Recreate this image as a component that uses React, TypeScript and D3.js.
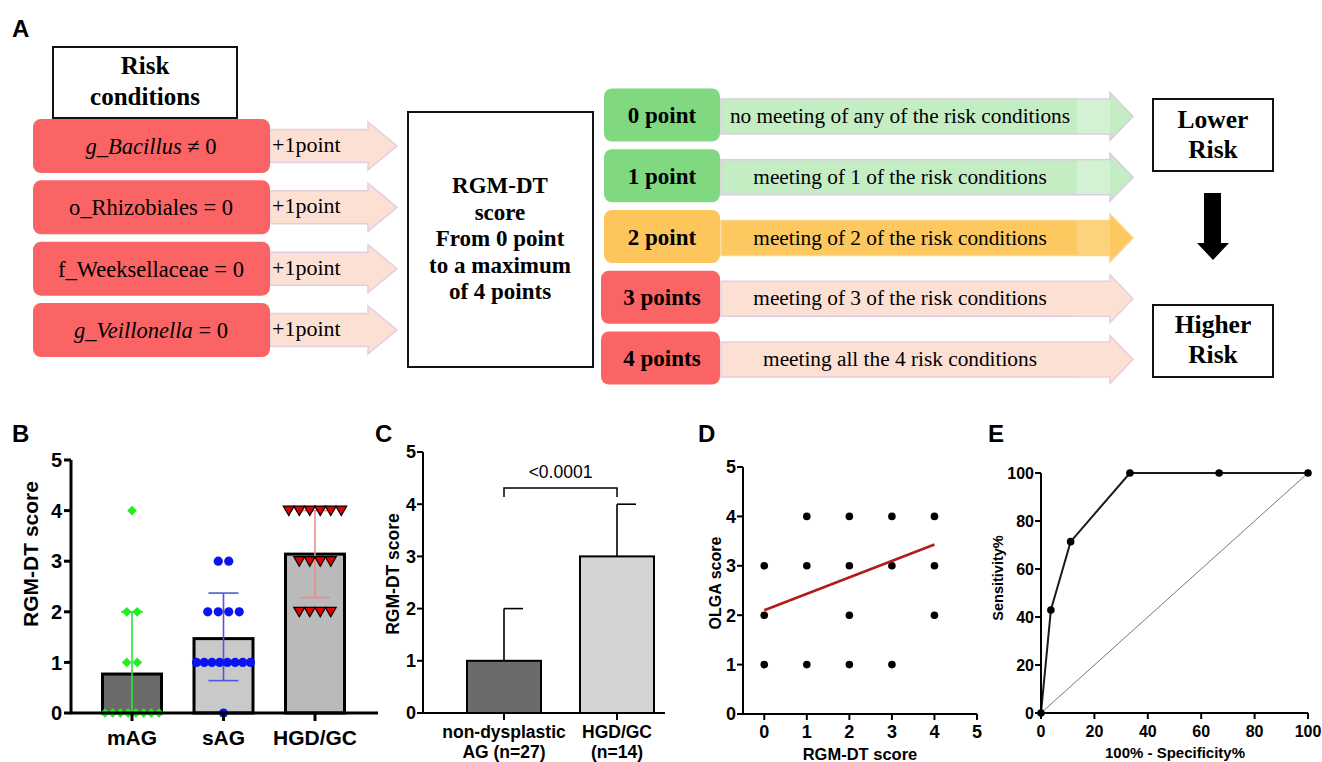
import React from "react";
import * as d3 from "d3";

// ---- panel A content ----
const riskConditions = [
  { italic: "g_Bacillus", rest: " ≠ 0" },
  { italic: "", rest: "o_Rhizobiales = 0" },
  { italic: "", rest: "f_Weeksellaceae = 0" },
  { italic: "g_Veillonella", rest: " = 0" },
];
const pointLabel = "+1point";
const scoreBoxLines = ["RGM-DT", "score", "From 0 point", "to a maximum", "of 4 points"];
const scoreLevels = ["0 point", "1 point", "2 point", "3 points", "4 points"];
const scoreDescriptions = [
  "no meeting of any of the risk conditions",
  "meeting of 1 of the risk conditions",
  "meeting of 2 of the risk conditions",
  "meeting of 3 of the risk conditions",
  "meeting all the 4 risk conditions",
];
const scoreTier = ["low", "low", "mid", "high", "high"];

// ---- panel B ----
const groupsB = ["mAG", "sAG", "HGD/GC"];
const meansB = [0.77, 1.47, 3.14];
const sdUpperB = [2.0, 2.37, 4.0];
const sdLowerB = [0, 0.64, 2.28];
const scoresMAG = [4, 2, 2, 1, 1, 0, 0, 0, 0, 0, 0, 0, 0];
const scoresSAG = [3, 3, 2, 2, 2, 2, 1, 1, 1, 1, 1, 1, 1, 1, 0];
const scoresHGD = [4, 4, 4, 4, 4, 4, 3, 3, 3, 3, 2, 2, 2, 2];

// ---- panel C ----
const groupsC = [["non-dysplastic", "AG (n=27)"], ["HGD/GC", "(n=14)"]];
const valuesC = [1, 3];
const errorTopC = [2, 4];
const pValueC = "<0.0001";

// ---- panel D ----
const rgmScoreD = [0, 0, 0, 1, 1, 1, 2, 2, 2, 2, 3, 3, 3, 4, 4, 4];
const olgaScoreD = [3, 2, 1, 4, 3, 1, 4, 3, 2, 1, 4, 3, 1, 4, 3, 2];
const fitStartD = [0, 2.1];
const fitEndD = [4, 3.43];

// ---- panel E ----
const rocSpec = [0, 3.7, 11.1, 33.3, 66.7, 100];
const rocSens = [0, 42.9, 71.4, 100, 100, 100];

const SERIF = "'Liberation Serif', 'Times New Roman', serif";
const SANS = "'Liberation Sans', Arial, Helvetica, sans-serif";

const arrowPath = (x0: number, x1: number, cy: number, sh: number, hh: number, hl: number) =>
  `M${x0},${cy - sh}L${x1 - hl},${cy - sh}L${x1 - hl},${cy - hh}L${x1},${cy}L${x1 - hl},${cy + hh}L${x1 - hl},${cy + sh}L${x0},${cy + sh}Z`;

const tierFill: Record<string, string> = { low: "#80d880", mid: "#fdc65d", high: "#fb6464" };
const tierArrow: Record<string, string> = { low: "#c4edc4", mid: "#fdc860", high: "#fde0d4" };
const tierArrowEnd: Record<string, string> = { low: "#d3f2d3", mid: "#fdd27c", high: "#fde0d4" };
const tierStroke: Record<string, string> = { low: "#dccbe0", mid: "#fbd58a", high: "#e3cde0" };

function PanelA() {
  const rowL = d3.scaleLinear().domain([0, 3]).range([146, 330]);
  const rowR = d3.scaleLinear().domain([0, 4]).range([115, 358]);
  return (
    <g>
      <text x={12} y={37} fontFamily={SANS} fontWeight="bold" fontSize={24}>A</text>
      <rect x={53} y={47} width={184} height={71} fill="#fff" stroke="#111" strokeWidth={2} />
      <text x={145} y={74} textAnchor="middle" fontFamily={SERIF} fontWeight="bold" fontSize={25}>Risk</text>
      <text x={145} y={105} textAnchor="middle" fontFamily={SERIF} fontWeight="bold" fontSize={25}>conditions</text>
      {riskConditions.map((c, i) => (
        <g key={i}>
          <path d={arrowPath(270, 397, rowL(i), 16.5, 24, 29)} fill="#fde0d4" stroke="#e3cde0" strokeWidth={1.5} />
          <rect x={33} y={rowL(i) - 27} width={237} height={54} rx={8} fill="#fb6464" />
          <text x={151} y={rowL(i) + 8} textAnchor="middle" fontFamily={SERIF} fontSize={22.5}>
            {c.italic && <tspan fontStyle="italic">{c.italic}</tspan>}
            <tspan>{c.rest}</tspan>
          </text>
          <text x={272} y={rowL(i) + 6} fontFamily={SERIF} fontSize={22}>{pointLabel}</text>
        </g>
      ))}
      <rect x={408} y={112} width={185} height={255} fill="#fff" stroke="#111" strokeWidth={2} />
      {scoreBoxLines.map((t, i) => (
        <text key={t} x={500} y={193 + i * 26.5} textAnchor="middle" fontFamily={SERIF} fontWeight="bold" fontSize={23}>{t}</text>
      ))}
      {scoreLevels.map((lv, i) => {
        const tier = scoreTier[i];
        const x0 = tier === "high" ? 601 : 604;
        const cy = rowR(i) + 1.5;
        return (
          <g key={lv}>
            <path d={arrowPath(721, 1133, cy, 17.5, 24, 23)} fill={tierArrow[tier]} stroke={tierStroke[tier]} strokeWidth={1.5} />
            <rect x={1077} y={cy - 16.8} width={33} height={33.6} fill={tierArrowEnd[tier]} />
            <rect x={x0} y={rowR(i) - 26.5} width={720 - x0} height={53} rx={8} fill={tierFill[tier]} />
            <text x={662} y={rowR(i) + 8} textAnchor="middle" fontFamily={SERIF} fontWeight="bold" fontSize={23}>{lv}</text>
            <text x={900} y={rowR(i) + 8} textAnchor="middle" fontFamily={SERIF} fontSize={21.3}>{scoreDescriptions[i]}</text>
          </g>
        );
      })}
      <rect x={1153} y={99} width={120} height={72} fill="#fff" stroke="#111" strokeWidth={2} />
      <text x={1213} y={128} textAnchor="middle" fontFamily={SERIF} fontWeight="bold" fontSize={25.5}>Lower</text>
      <text x={1213} y={158} textAnchor="middle" fontFamily={SERIF} fontWeight="bold" fontSize={25.5}>Risk</text>
      <path d="M1204,193L1221,193L1221,243L1229,243L1213,260L1197,243L1204,243Z" fill="#000" />
      <rect x={1153} y={305} width={120} height={72} fill="#fff" stroke="#111" strokeWidth={2} />
      <text x={1213} y={333} textAnchor="middle" fontFamily={SERIF} fontWeight="bold" fontSize={25.5}>Higher</text>
      <text x={1213} y={363} textAnchor="middle" fontFamily={SERIF} fontWeight="bold" fontSize={25.5}>Risk</text>
    </g>
  );
}

// spread points with the same value side by side around the category centre
function spread(values: number[]) {
  const counts = d3.rollup(values, v => v.length, v => v);
  const seen = new Map<number, number>();
  return values.map(v => {
    const n = counts.get(v) || 1;
    const k = seen.get(v) || 0;
    seen.set(v, k + 1);
    const step = n > 1 ? Math.min(10.5, 54 / (n - 1)) : 0;
    return { v, dx: (k - (n - 1) / 2) * step };
  });
}

function PanelB() {
  const y = d3.scaleLinear().domain([0, 5]).range([713, 460]);
  const x = d3.scalePoint<string>().domain(groupsB).range([132, 315]);
  const bw = 59;
  const barFill = ["#6b6b6b", "#c9c9c9", "#bababa"];
  const errCol = ["#2fe52f", "#4a5ae0", "#f28a8a"];
  const sets = [scoresMAG, scoresSAG, scoresHGD];
  const diamond = d3.symbol().type(d3.symbolDiamond2).size(60)();
  const tri = "M-5.5,-4.5L5.5,-4.5L0,5Z";
  return (
    <g fontFamily={SANS} fontWeight="bold">
      <text x={12} y={442} fontSize={24}>B</text>
      {groupsB.map((g, i) => (
        <rect key={g} x={x(g)! - bw / 2} y={y(meansB[i])} width={bw} height={y(0) - y(meansB[i])} fill={barFill[i]} stroke="#000" strokeWidth={3} />
      ))}
      {groupsB.map((g, i) => {
        const cx = x(g)!;
        const hw = i === 0 ? 11 : 15;
        return (
          <g key={g} stroke={errCol[i]} strokeWidth={1.6}>
            <line x1={cx} x2={cx} y1={y(sdLowerB[i])} y2={y(sdUpperB[i])} />
            <line x1={cx - hw} x2={cx + hw} y1={y(sdUpperB[i])} y2={y(sdUpperB[i])} />
            {sdLowerB[i] > 0 && <line x1={cx - hw} x2={cx + hw} y1={y(sdLowerB[i])} y2={y(sdLowerB[i])} />}
          </g>
        );
      })}
      {sets.map((s, i) =>
        spread(s).map((p, j) => {
          const px = x(groupsB[i])! + p.dx;
          const py = y(p.v);
          if (i === 0) return <path key={`${i}-${j}`} d={diamond} transform={`translate(${px},${py})`} fill="#22ee22" />;
          if (i === 1) return <circle key={`${i}-${j}`} cx={px} cy={py} r={4.6} fill="#0a14ee" />;
          return <path key={`${i}-${j}`} d={tri} transform={`translate(${px},${py})`} fill="#e00000" stroke="#000" strokeWidth={1.2} />;
        })
      )}
      <line x1={71} x2={71} y1={y(0)} y2={y(5)} stroke="#000" strokeWidth={3} />
      <line x1={70} x2={378} y1={y(0)} y2={y(0)} stroke="#000" strokeWidth={3} />
      {y.ticks(5).map(t => (
        <g key={t}>
          <line x1={64} x2={71} y1={y(t)} y2={y(t)} stroke="#000" strokeWidth={3} />
          <text x={62} y={y(t)} dy="0.36em" textAnchor="end" fontSize={20}>{t}</text>
        </g>
      ))}
      {groupsB.map(g => (
        <g key={g}>
          <line x1={x(g)} x2={x(g)} y1={y(0)} y2={y(0) + 8} stroke="#000" strokeWidth={3} />
          <text x={x(g)} y={745} textAnchor="middle" fontSize={21}>{g}</text>
        </g>
      ))}
      <text transform="translate(30,554) rotate(-90)" textAnchor="middle" dy="0.36em" fontSize={21}>RGM-DT score</text>
    </g>
  );
}

function PanelC() {
  const y = d3.scaleLinear().domain([0, 5]).range([713, 452]);
  const keys = groupsC.map(g => g.join(" "));
  const x = d3.scalePoint<string>().domain(keys).range([504, 617]);
  const bw = 74;
  const fills = ["#6b6b6b", "#d4d4d4"];
  const bracketY = 488;
  return (
    <g fontFamily={SANS} fontWeight="bold">
      <text x={375} y={442} fontSize={24}>C</text>
      {keys.map((k, i) => (
        <g key={k}>
          <line x1={x(k)} x2={x(k)} y1={y(valuesC[i])} y2={y(errorTopC[i])} stroke="#000" strokeWidth={1.6} />
          <line x1={x(k)} x2={x(k)! + 19} y1={y(errorTopC[i])} y2={y(errorTopC[i])} stroke="#000" strokeWidth={1.6} />
          <rect x={x(k)! - bw / 2} y={y(valuesC[i])} width={bw} height={y(0) - y(valuesC[i])} fill={fills[i]} stroke="#000" strokeWidth={2} />
        </g>
      ))}
      <path d={`M${x(keys[0])},${bracketY + 9}V${bracketY}H${x(keys[1])}V${bracketY + 9}`} fill="none" stroke="#000" strokeWidth={1.5} />
      <text x={(x(keys[0])! + x(keys[1])!) / 2} y={478} textAnchor="middle" fontWeight="normal" fontSize={17.5}>{pValueC}</text>
      <line x1={423} x2={423} y1={y(0)} y2={y(5)} stroke="#000" strokeWidth={2} />
      <line x1={422} x2={665} y1={y(0)} y2={y(0)} stroke="#000" strokeWidth={2} />
      {y.ticks(5).map(t => (
        <g key={t}>
          <line x1={417} x2={423} y1={y(t)} y2={y(t)} stroke="#000" strokeWidth={2} />
          <text x={416} y={y(t)} dy="0.36em" textAnchor="end" fontSize={18}>{t}</text>
        </g>
      ))}
      {keys.map((k, i) => (
        <g key={k}>
          <line x1={x(k)} x2={x(k)} y1={y(0)} y2={y(0) + 7} stroke="#000" strokeWidth={2} />
          {groupsC[i].map((line, j) => (
            <text key={line} x={x(k)} y={738 + j * 19.5} textAnchor="middle" fontSize={17.5}>{line}</text>
          ))}
        </g>
      ))}
      <text transform="translate(393,574) rotate(-90)" textAnchor="middle" dy="0.36em" fontSize={17.5}>RGM-DT score</text>
    </g>
  );
}

function PanelD() {
  const x = d3.scaleLinear().domain([-0.5, 5]).range([743, 977]);
  const y = d3.scaleLinear().domain([0, 5]).range([714, 467]);
  return (
    <g fontFamily={SANS} fontWeight="bold">
      <text x={698} y={442} fontSize={24}>D</text>
      {rgmScoreD.map((v, i) => (
        <circle key={i} cx={x(v)} cy={y(olgaScoreD[i])} r={3.8} fill="#000" />
      ))}
      <line x1={x(fitStartD[0])} y1={y(fitStartD[1])} x2={x(fitEndD[0])} y2={y(fitEndD[1])} stroke="#b41c1c" strokeWidth={2.6} />
      <line x1={743} x2={743} y1={y(0)} y2={y(5)} stroke="#000" strokeWidth={2} />
      <line x1={742} x2={977} y1={y(0)} y2={y(0)} stroke="#000" strokeWidth={2} />
      {y.ticks(5).map(t => (
        <g key={t}>
          <line x1={737} x2={743} y1={y(t)} y2={y(t)} stroke="#000" strokeWidth={2} />
          <text x={736} y={y(t)} dy="0.36em" textAnchor="end" fontSize={18}>{t}</text>
        </g>
      ))}
      {d3.range(0, 6).map(t => (
        <g key={t}>
          <line x1={x(t)} x2={x(t)} y1={y(0)} y2={y(0) + 6} stroke="#000" strokeWidth={2} />
          <text x={x(t)} y={738} textAnchor="middle" fontSize={18}>{t}</text>
        </g>
      ))}
      <text x={860} y={760} textAnchor="middle" fontSize={16.5}>RGM-DT score</text>
      <text transform="translate(715,583) rotate(-90)" textAnchor="middle" dy="0.36em" fontSize={16}>OLGA score</text>
    </g>
  );
}

function PanelE() {
  const x = d3.scaleLinear().domain([0, 100]).range([1041, 1308]);
  const y = d3.scaleLinear().domain([0, 100]).range([713, 473]);
  const pts = rocSpec.map((s, i) => [s, rocSens[i]] as [number, number]);
  const line = d3.line<[number, number]>().x(d => x(d[0])).y(d => y(d[1]));
  return (
    <g fontFamily={SANS} fontWeight="bold">
      <text x={988} y={442} fontSize={24}>E</text>
      <line x1={x(0)} y1={y(0)} x2={x(100)} y2={y(100)} stroke="#555" strokeWidth={0.8} />
      <path d={line(pts)!} fill="none" stroke="#1a1a1a" strokeWidth={2} />
      {pts.map((p, i) => (
        <circle key={i} cx={x(p[0])} cy={y(p[1])} r={3.8} fill="#000" />
      ))}
      <line x1={1041} x2={1041} y1={y(0)} y2={y(100)} stroke="#000" strokeWidth={2} />
      <line x1={1040} x2={1308} y1={y(0)} y2={y(0)} stroke="#000" strokeWidth={2} />
      {y.ticks(5).map(t => (
        <g key={t}>
          <line x1={1035} x2={1041} y1={y(t)} y2={y(t)} stroke="#000" strokeWidth={2} />
          <text x={1034} y={y(t)} dy="0.36em" textAnchor="end" fontSize={16}>{t}</text>
        </g>
      ))}
      {x.ticks(5).map(t => (
        <g key={t}>
          <line x1={x(t)} x2={x(t)} y1={y(0)} y2={y(0) + 6} stroke="#000" strokeWidth={2} />
          <text x={x(t)} y={737} textAnchor="middle" fontSize={16}>{t}</text>
        </g>
      ))}
      <text x={1175} y={758} textAnchor="middle" fontSize={15}>100% - Specificity%</text>
      <text transform="translate(998,578) rotate(-90)" textAnchor="middle" dy="0.36em" fontSize={14.5}>Sensitivity%</text>
    </g>
  );
}

export default function App() {
  return (
    <svg width={1322} height={762} viewBox="0 0 1322 762" style={{ position: "absolute", left: 0, top: 0, background: "#fff" }}>
      <rect width={1322} height={762} fill="#fff" />
      <PanelA />
      <PanelB />
      <PanelC />
      <PanelD />
      <PanelE />
    </svg>
  );
}
